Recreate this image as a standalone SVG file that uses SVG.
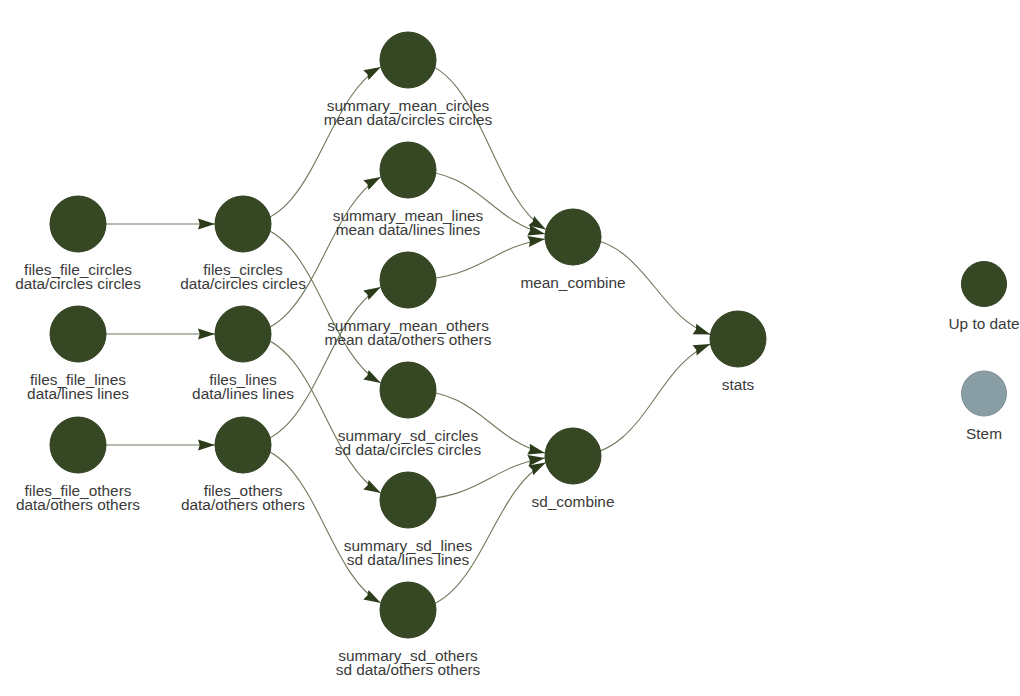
<svg xmlns="http://www.w3.org/2000/svg" width="1020" height="696" viewBox="0 0 1020 696">
<style>
.edge{fill:none;stroke:#6d7a5c;stroke-width:1.1}
.node{fill:#354823;stroke:#2f3f1f;stroke-width:1}
.stem{fill:#899DA4;stroke:#7a8e95;stroke-width:1}
text{font-family:"Liberation Sans",Arial,sans-serif;font-size:15.4px;fill:#3a3a3a;text-anchor:middle}
</style>
<defs>
<marker id="arr" markerUnits="userSpaceOnUse" markerWidth="19" markerHeight="13" refX="17.5" refY="6.5" orient="auto">
<path d="M0.5,1 L17.5,6.5 L0.5,12 L2.2,6.5 Z" fill="#2c3c1b"/>
</marker>
</defs>
<rect width="1020" height="696" fill="#ffffff"/>
<g id="edges">
<path class="edge" marker-end="url(#arr)" d="M106,224 L215,224"/>
<path class="edge" marker-end="url(#arr)" d="M106,334 L215,334"/>
<path class="edge" marker-end="url(#arr)" d="M106,445 L215,445"/>
<path class="edge" marker-end="url(#arr)" d="M243,224 C315.27,224 324.23,98.15 380.8,66.94"/>
<path class="edge" marker-end="url(#arr)" d="M243,224 C315.27,224 324.23,351.39 380.8,382.98"/>
<path class="edge" marker-end="url(#arr)" d="M243,334 C315.27,334 324.23,208.15 380.8,176.94"/>
<path class="edge" marker-end="url(#arr)" d="M243,334 C315.27,334 324.23,461.39 380.8,492.98"/>
<path class="edge" marker-end="url(#arr)" d="M243,445 C315.27,445 324.23,318.38 380.8,286.98"/>
<path class="edge" marker-end="url(#arr)" d="M243,445 C315.27,445 324.23,571.62 380.8,603.02"/>
<path class="edge" marker-end="url(#arr)" d="M408,60 C480.27,60 489.23,195.83 545.8,229.51"/>
<path class="edge" marker-end="url(#arr)" d="M408,170 C479.94,170 489.15,220.95 545.03,233.99"/>
<path class="edge" marker-end="url(#arr)" d="M408,280 C479.94,280 489.15,247.3 545.03,238.93"/>
<path class="edge" marker-end="url(#arr)" d="M408,390 C479.94,390 489.15,440.19 545.03,453.03"/>
<path class="edge" marker-end="url(#arr)" d="M408,500 C479.94,500 489.15,466.54 545.03,457.98"/>
<path class="edge" marker-end="url(#arr)" d="M408,610 C480.27,610 489.23,491.82 545.8,462.52"/>
<path class="edge" marker-end="url(#arr)" d="M573,237 C645.1,237 654.19,314.92 710.41,334.55"/>
<path class="edge" marker-end="url(#arr)" d="M573,456 C645.1,456 654.19,366.62 710.41,344.1"/>
</g>
<g id="files_file_circles"><circle class="node" cx="78" cy="224" r="28"/><text x="78" y="274.5">files_file_circles</text><text x="78" y="289">data/circles circles</text></g>
<g id="files_file_lines"><circle class="node" cx="78" cy="334" r="28"/><text x="78" y="384.5">files_file_lines</text><text x="78" y="399">data/lines lines</text></g>
<g id="files_file_others"><circle class="node" cx="78" cy="445" r="28"/><text x="78" y="495.5">files_file_others</text><text x="78" y="510">data/others others</text></g>
<g id="files_circles"><circle class="node" cx="243" cy="224" r="28"/><text x="243" y="274.5">files_circles</text><text x="243" y="289">data/circles circles</text></g>
<g id="files_lines"><circle class="node" cx="243" cy="334" r="28"/><text x="243" y="384.5">files_lines</text><text x="243" y="399">data/lines lines</text></g>
<g id="files_others"><circle class="node" cx="243" cy="445" r="28"/><text x="243" y="495.5">files_others</text><text x="243" y="510">data/others others</text></g>
<g id="summary_mean_circles"><circle class="node" cx="408" cy="60" r="28"/><text x="408" y="110.5">summary_mean_circles</text><text x="408" y="125">mean data/circles circles</text></g>
<g id="summary_mean_lines"><circle class="node" cx="408" cy="170" r="28"/><text x="408" y="220.5">summary_mean_lines</text><text x="408" y="235">mean data/lines lines</text></g>
<g id="summary_mean_others"><circle class="node" cx="408" cy="280" r="28"/><text x="408" y="330.5">summary_mean_others</text><text x="408" y="345">mean data/others others</text></g>
<g id="summary_sd_circles"><circle class="node" cx="408" cy="390" r="28"/><text x="408" y="440.5">summary_sd_circles</text><text x="408" y="455">sd data/circles circles</text></g>
<g id="summary_sd_lines"><circle class="node" cx="408" cy="500" r="28"/><text x="408" y="550.5">summary_sd_lines</text><text x="408" y="565">sd data/lines lines</text></g>
<g id="summary_sd_others"><circle class="node" cx="408" cy="610" r="28"/><text x="408" y="660.5">summary_sd_others</text><text x="408" y="675">sd data/others others</text></g>
<g id="mean_combine"><circle class="node" cx="573" cy="237" r="28"/><text x="573" y="288">mean_combine</text></g>
<g id="sd_combine"><circle class="node" cx="573" cy="456" r="28"/><text x="573" y="507">sd_combine</text></g>
<g id="stats"><circle class="node" cx="738" cy="339" r="28"/><text x="738" y="390">stats</text></g>
<g id="legend_up_to_date"><circle class="node" cx="984" cy="284" r="22.5"/><text x="984" y="329.3">Up to date</text></g>
<g id="legend_stem"><circle class="stem" cx="984" cy="393.5" r="22.5"/><text x="984" y="439.3">Stem</text></g>
</svg>
